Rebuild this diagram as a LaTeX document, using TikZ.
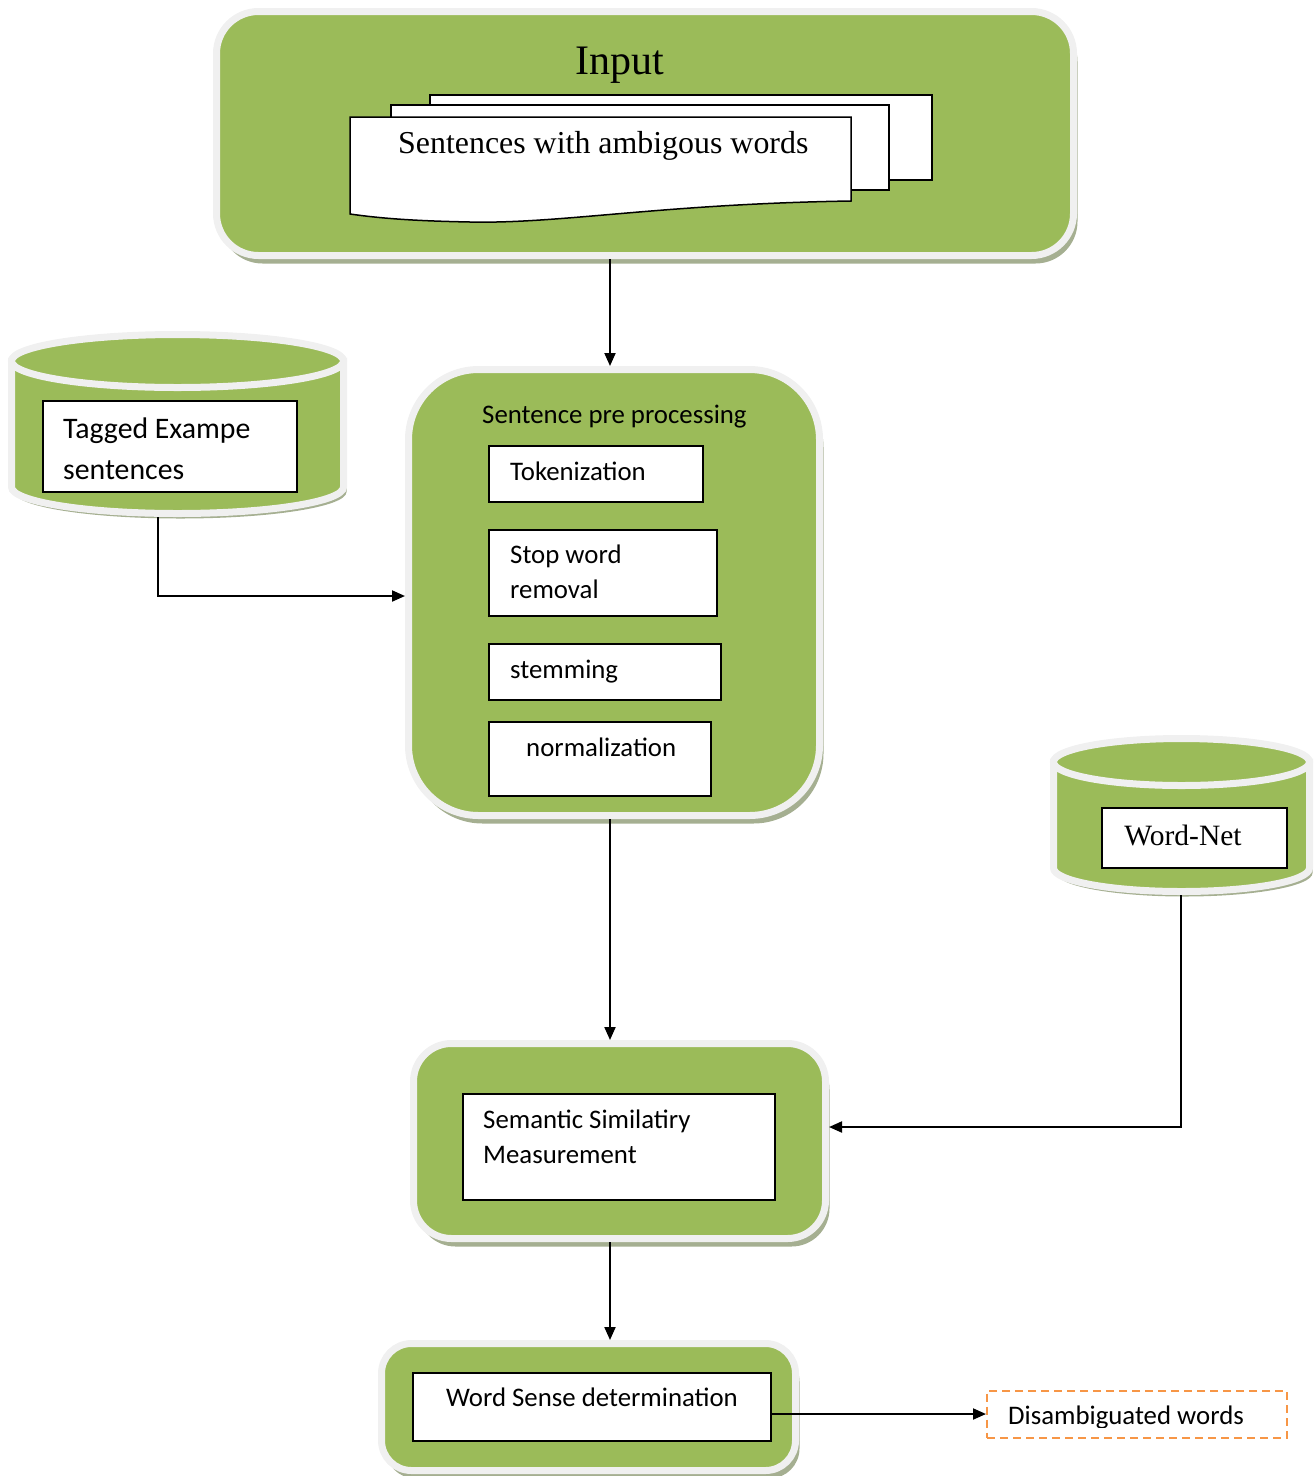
\documentclass[tikz,border=0pt]{standalone}
\usepackage{fontspec}
\setmainfont{Liberation Serif}
\newfontfamily\carf{Carlito}
\usetikzlibrary{arrows.meta,shadows,calc}
\definecolor{gr}{HTML}{9BBB59}
\definecolor{rim}{HTML}{F0F0F0}
\definecolor{shd}{RGB}{165,175,145}
\definecolor{org}{HTML}{F79646}
\begin{document}
\begin{tikzpicture}[x=1pt,y=-1pt,
  gbox/.style={rectangle, rounded corners=#1, fill=gr, draw=rim, line width=7pt, inner sep=0pt,
    drop shadow={shadow xshift=4pt, shadow yshift=-8pt, fill=shd, opacity=1}},
  wbox/.style={rectangle, draw=black, fill=white, line width=1.5pt, inner sep=0pt},
  page/.style={draw=black, fill=white, line width=1.5pt},
  txt/.style={anchor=base west, inner sep=0pt},
  cand/.style={font=\carf\fontsize{26.8}{30}\selectfont},
  arr/.style={line width=2pt, -{Triangle[length=13pt,width=11pt]}},
  cylrim/.style={fill=gr, draw=rim, line width=7pt}]
\useasboundingbox (0,0) rectangle (1315,1476);

% ---------- Input ----------
\node[gbox=42pt, minimum width=857pt, minimum height=244pt] (input) at (645,133.5) {};
\node[anchor=base, inner sep=0pt, font=\fontsize{42}{46}\selectfont] (inputlbl) at (620,74) {Input};
\draw[page] (430,95) rectangle (932,180);
\draw[page] (391,105) rectangle (889,190);
\draw[page] (350,117) -- (851,117) -- (851,201)
   .. controls (660,204) and (560,224) .. (470,222)
   .. controls (420,221) and (385,219) .. (350,214) -- cycle;
\node[txt, font=\fontsize{31.9}{35}\selectfont] (sentlbl) at (398,153) {Sentences with ambigous words};

% ---------- Tagged cylinder ----------
\fill[shd] ($(11.5,361)+(3,5)$) -- ($(11.5,487)+(3,5)$) arc[start angle=180,end angle=360,x radius=166pt,y radius=26.5pt] -- ($(343.5,361)+(3,5)$) -- cycle;
\path[cylrim] (11.5,361) -- (11.5,487) arc[start angle=180,end angle=360,x radius=166pt,y radius=26.5pt] -- (343.5,361) -- cycle;
\path[cylrim] (177.5,361) ellipse[x radius=166pt, y radius=26.5pt];
\node[wbox, minimum width=254pt, minimum height=91pt] (tagbox) at (170,446.5) {};
\node[txt, font=\carf\fontsize{29.8}{33}\selectfont] (tag1) at (63,438) {Tagged Exampe};
\node[txt, font=\carf\fontsize{29.8}{33}\selectfont] (tag2) at (63,479) {sentences};
\coordinate (tagcyl) at (158,517);

% ---------- Sentence pre processing ----------
\node[gbox=70pt, minimum width=411pt, minimum height=446pt] (pre) at (614,592.5) {};
\node[txt, cand] (prelbl) at (482,423) {Sentence pre processing};
\node[wbox, minimum width=214pt, minimum height=56pt] (tok) at (596,474) {};
\node[txt, cand] (toklbl) at (510,480) {Tokenization};
\node[wbox, minimum width=228pt, minimum height=86pt] (stop) at (603,573) {};
\node[txt, cand] (stop1) at (510,563) {Stop word};
\node[txt, cand] (stop2) at (510,598) {removal};
\node[wbox, minimum width=232pt, minimum height=56pt] (stem) at (605,672) {};
\node[txt, cand] (stemlbl) at (510,678) {stemming};
\node[wbox, minimum width=222pt, minimum height=74pt] (norm) at (600,759) {};
\node[txt, cand] (normlbl) at (526,756) {normalization};

% ---------- Word-Net cylinder ----------
\fill[shd] ($(1053.5,762)+(3,5)$) -- ($(1053.5,868)+(3,5)$) arc[start angle=180,end angle=360,x radius=128pt,y radius=23.5pt] -- ($(1309.5,762)+(3,5)$) -- cycle;
\path[cylrim] (1053.5,762) -- (1053.5,868) arc[start angle=180,end angle=360,x radius=128pt,y radius=23.5pt] -- (1309.5,762) -- cycle;
\path[cylrim] (1181.5,762) ellipse[x radius=128pt, y radius=23.5pt];
\node[wbox, minimum width=185pt, minimum height=60pt] (wnbox) at (1194.5,838) {};
\node[anchor=base, inner sep=0pt, font=\fontsize{29.5}{32}\selectfont] (wnlbl) at (1183,845) {Word-Net};
\coordinate (wncyl) at (1181,895);

% ---------- Semantic similarity ----------
\node[gbox=38pt, minimum width=412pt, minimum height=195pt] (sem) at (619.5,1141) {};
\node[wbox, minimum width=312pt, minimum height=106pt] (sembox) at (619,1147) {};
\node[txt, cand] (sem1) at (483,1128) {Semantic Similatiry};
\node[txt, cand] (sem2) at (483,1163) {Measurement};

% ---------- Word sense determination ----------
\node[gbox=30pt, minimum width=414pt, minimum height=127pt] (ws) at (588.5,1407) {};
\node[wbox, minimum width=358pt, minimum height=68pt] (wsbox) at (592,1407) {};
\node[anchor=base, inner sep=0pt, cand] (wslbl) at (592,1406) {Word Sense determination};

% ---------- Disambiguated ----------
\node[rectangle, draw=org, line width=2pt, dash pattern=on 8pt off 5pt, minimum width=300pt, minimum height=47pt, inner sep=0pt] (dis) at (1137,1414) {};
\begin{scope}
\clip (990,1392) rectangle (1285,1427);
\node[txt, cand] (dislbl) at (1008,1424) {Disambiguated words};
\end{scope}

% ---------- Connectors ----------
\draw[arr] ([xshift=-35pt]input.south) -- ([xshift=-4pt]pre.north);
\draw[arr] (tagcyl) |- ([yshift=-3.5pt]pre.west);
\draw[arr] ([xshift=-4pt]pre.south) -- ([xshift=-9.5pt]sem.north);
\draw[arr] (wncyl) |- ([yshift=14pt]sem.east);
\draw[arr] ([xshift=-9.5pt]sem.south) -- ([xshift=21.5pt]ws.north);
\draw[arr] ([yshift=-7pt]wsbox.east) -- (dis.west);
\end{tikzpicture}
\end{document}
